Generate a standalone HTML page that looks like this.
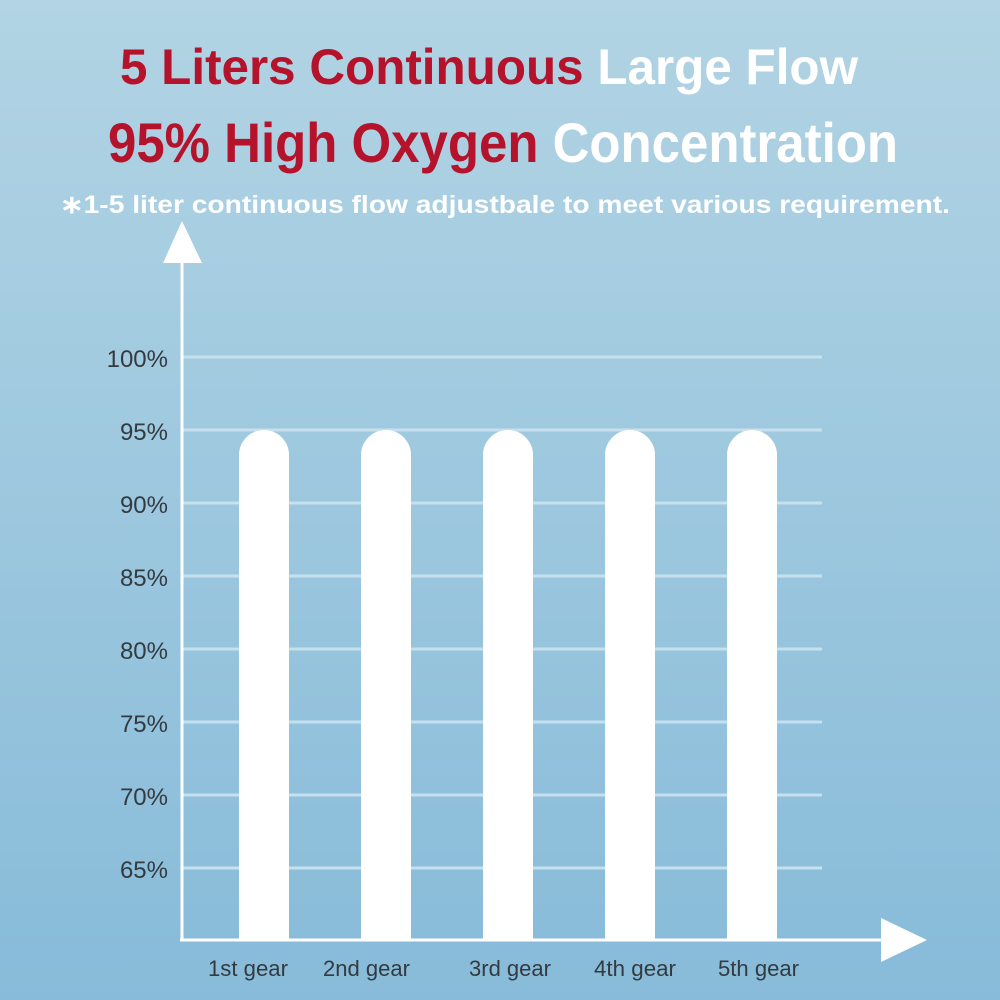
<!DOCTYPE html>
<html><head><meta charset="utf-8"><style>
html,body{margin:0;padding:0;width:1000px;height:1000px;overflow:hidden}
svg{display:block}
</style></head><body>
<svg width="1000" height="1000" viewBox="0 0 1000 1000" xmlns="http://www.w3.org/2000/svg">
<defs>
<linearGradient id="bg" x1="0" y1="0" x2="0" y2="1">
<stop offset="0" stop-color="#b2d4e4"/>
<stop offset="1" stop-color="#87bbd9"/>
</linearGradient>
</defs>
<rect width="1000" height="1000" fill="url(#bg)"/>
<g font-family="Liberation Sans, sans-serif" font-weight="bold">
<text x="120" y="84" font-size="50" textLength="738" lengthAdjust="spacingAndGlyphs"><tspan fill="#b5122b">5 Liters Continuous </tspan><tspan fill="#ffffff">Large Flow</tspan></text>
<text x="108" y="162" font-size="56" textLength="790" lengthAdjust="spacingAndGlyphs"><tspan fill="#b5122b">95% High Oxygen </tspan><tspan fill="#ffffff">Concentration</tspan></text>
<text x="60" y="213" font-size="25" fill="#ffffff" textLength="890" lengthAdjust="spacingAndGlyphs">∗1-5 liter continuous flow adjustbale to meet various requirement.</text>
</g>
<g stroke="#c6e0ee" stroke-width="3">
<line x1="182" y1="357" x2="822" y2="357"/>
<line x1="182" y1="430" x2="822" y2="430"/>
<line x1="182" y1="503" x2="822" y2="503"/>
<line x1="182" y1="576" x2="822" y2="576"/>
<line x1="182" y1="649" x2="822" y2="649"/>
<line x1="182" y1="722" x2="822" y2="722"/>
<line x1="182" y1="795" x2="822" y2="795"/>
<line x1="182" y1="868" x2="822" y2="868"/>
</g>
<g fill="#ffffff">
<path d="M239 455 a25 25 0 0 1 50 0 V940 H239Z"/>
<path d="M361 455 a25 25 0 0 1 50 0 V940 H361Z"/>
<path d="M483 455 a25 25 0 0 1 50 0 V940 H483Z"/>
<path d="M605 455 a25 25 0 0 1 50 0 V940 H605Z"/>
<path d="M727 455 a25 25 0 0 1 50 0 V940 H727Z"/>
</g>
<g stroke="#ffffff" stroke-width="3" fill="none">
<line x1="182" y1="255" x2="182" y2="941"/>
<line x1="180" y1="940" x2="885" y2="940"/>
</g>
<polygon points="182,221 163,263 202,263" fill="#ffffff"/>
<polygon points="927,940 881,918 881,962" fill="#ffffff"/>
<g font-family="Liberation Sans, sans-serif" font-size="24" fill="#333a40" text-anchor="end">
<text x="168" y="367">100%</text>
<text x="168" y="440">95%</text>
<text x="168" y="513">90%</text>
<text x="168" y="586">85%</text>
<text x="168" y="659">80%</text>
<text x="168" y="732">75%</text>
<text x="168" y="805">70%</text>
<text x="168" y="878">65%</text>
</g>
<g font-family="Liberation Sans, sans-serif" font-size="22" fill="#333a40">
<text x="208" y="976" textLength="80" lengthAdjust="spacingAndGlyphs">1st gear</text>
<text x="323" y="976" textLength="87" lengthAdjust="spacingAndGlyphs">2nd gear</text>
<text x="469" y="976" textLength="82" lengthAdjust="spacingAndGlyphs">3rd gear</text>
<text x="594" y="976" textLength="82" lengthAdjust="spacingAndGlyphs">4th gear</text>
<text x="718" y="976" textLength="81" lengthAdjust="spacingAndGlyphs">5th gear</text>
</g>
</svg>
</body></html>
